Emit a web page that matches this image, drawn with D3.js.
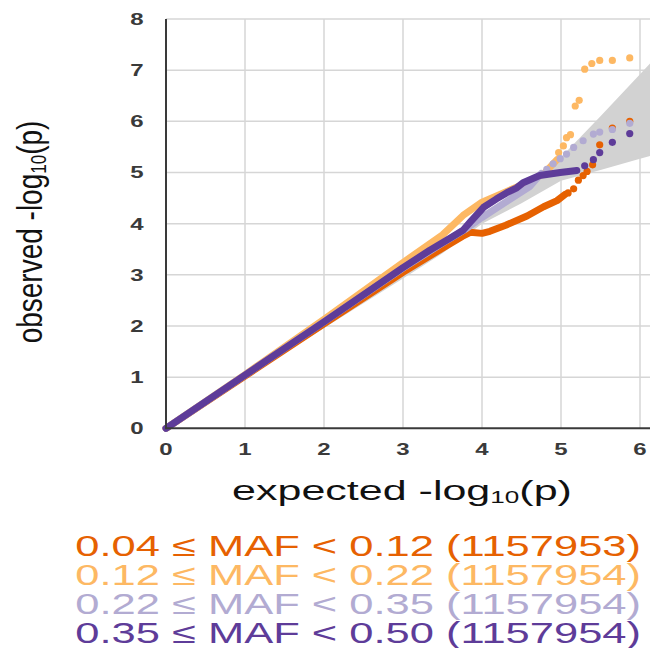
<!DOCTYPE html>
<html>
<head>
<meta charset="utf-8">
<script src="https://cdn.jsdelivr.net/npm/d3@7"></script>
<style>
  html, body { margin: 0; padding: 0; background: #fff; }
  svg { display: block; }
  text { font-family: "Liberation Sans", Arial, sans-serif; }
</style>
</head>
<body>
<svg id="chart" width="650" height="648"></svg>
<script>
// ---------- data ----------
const xTicks = [0, 1, 2, 3, 4, 5, 6];
const yTicks = [0, 1, 2, 3, 4, 5, 6, 7, 8];

const bandX     = [0, 1, 2, 3, 3.5, 4, 4.5, 5, 5.5, 6, 6.2];
const bandUpper = [0.02, 1.03, 2.05, 3.08, 3.6, 4.2, 4.7, 5.3, 6.1, 6.92, 7.25];
const bandLower = [0, 0.98, 1.96, 2.93, 3.42, 4.0, 4.4, 4.84, 5.05, 5.27, 5.35];

const seriesNames  = ["0.04 \u2264 MAF < 0.12 (1157953)", "0.12 \u2264 MAF < 0.22 (1157954)",
                      "0.22 \u2264 MAF < 0.35 (1157954)", "0.35 \u2264 MAF < 0.50 (1157954)"];
const seriesColors = ["#e66101", "#fdb863", "#b2abd2", "#5e3c99"];

// dense part (drawn as a thick line) : expected / observed
const maf1LineX = [0, 1, 2, 3, 3.5, 3.75, 3.85, 4.0, 4.1, 4.3, 4.57, 4.78, 4.95, 5.05];
const maf1LineY = [0, 1.02, 2.04, 3.05, 3.52, 3.75, 3.83, 3.81, 3.85, 3.97, 4.15, 4.33, 4.45, 4.57];
const maf2LineX = [0, 1, 2, 3, 3.5, 3.76, 4.0, 4.3, 4.6, 4.8, 4.95];
const maf2LineY = [0, 1.05, 2.13, 3.24, 3.78, 4.16, 4.42, 4.62, 4.82, 5.0, 5.25];
const maf3LineX = [0, 1, 2, 3, 3.5, 3.8, 4.0, 4.3, 4.6, 4.75];
const maf3LineY = [0, 1.04, 2.08, 3.13, 3.62, 3.9, 4.12, 4.42, 4.72, 4.98];
const maf4LineX = [0, 1, 2, 3, 3.34, 3.6, 3.76, 3.85, 4.02, 4.18, 4.31, 4.44, 4.52, 4.73, 4.99, 5.2];
const maf4LineY = [0, 1.04, 2.08, 3.14, 3.48, 3.72, 3.87, 4.03, 4.32, 4.48, 4.6, 4.7, 4.8, 4.94, 5.0, 5.04];

// sparse tail (individual points)
const maf1DotX = [5.09, 5.16, 5.22, 5.28, 5.33, 5.40, 5.49, 5.65, 5.87];
const maf1DotY = [4.60, 4.68, 4.85, 4.94, 5.02, 5.15, 5.54, 5.87, 6.00];
const maf2DotX = [4.97, 5.03, 5.07, 5.12, 5.18, 5.23, 5.30, 5.39, 5.49, 5.65, 5.87];
const maf2DotY = [5.39, 5.52, 5.68, 5.74, 6.30, 6.41, 7.02, 7.13, 7.19, 7.19, 7.24];
const maf3DotX = [4.82, 4.90, 4.99, 5.07, 5.16, 5.28, 5.41, 5.49, 5.65, 5.87];
const maf3DotY = [5.06, 5.17, 5.27, 5.36, 5.49, 5.62, 5.75, 5.79, 5.84, 5.96];
const maf4DotX = [5.30, 5.41, 5.49, 5.65, 5.87];
const maf4DotY = [5.13, 5.25, 5.39, 5.59, 5.76];

// ---------- build ----------
const lineXs = [maf1LineX, maf2LineX, maf3LineX, maf4LineX];
const lineYs = [maf1LineY, maf2LineY, maf3LineY, maf4LineY];
const dotXs  = [maf1DotX, maf2DotX, maf3DotX, maf4DotX];
const dotYs  = [maf1DotY, maf2DotY, maf3DotY, maf4DotY];

const svg = d3.select("#chart");
const x = d3.scaleLinear().domain([0, 6]).range([166, 640]);
const y = d3.scaleLinear().domain([0, 8]).range([428.3, 19]);

// grid
const grid = svg.append("g");
grid.selectAll("line.vg").data(xTicks.filter(d => d > 0)).enter().append("line")
  .attr("x1", d => x(d)).attr("x2", d => x(d))
  .attr("y1", y(0)).attr("y2", y(8))
  .attr("stroke", "#d6d6d6").attr("stroke-width", 1.5);
grid.selectAll("line.hg").data(yTicks.filter(d => d > 0)).enter().append("line")
  .attr("x1", x(0)).attr("x2", 650)
  .attr("y1", d => y(d)).attr("y2", d => y(d))
  .attr("stroke", "#d6d6d6").attr("stroke-width", 1.5);

// confidence band
const bandData = bandX.map((v, i) => ({x: v, lo: bandLower[i], hi: bandUpper[i]}));
svg.append("path").datum(bandData)
  .attr("d", d3.area().x(d => x(d.x)).y0(d => y(d.lo)).y1(d => y(d.hi)))
  .attr("fill", "#d2d2d2");

// series
const line = d3.line().x(d => x(d[0])).y(d => y(d[1]));
seriesColors.forEach((col, s) => {
  const g = svg.append("g");
  const pts = lineXs[s].map((v, i) => [v, lineYs[s][i]]);
  g.append("path").datum(pts)
    .attr("d", line)
    .attr("fill", "none").attr("stroke", col)
    .attr("stroke-width", 7).attr("stroke-linejoin", "round").attr("stroke-linecap", "round");
  const dots = dotXs[s].map((v, i) => [v, dotYs[s][i]]);
  g.selectAll("circle").data(dots).enter().append("circle")
    .attr("cx", d => x(d[0])).attr("cy", d => y(d[1])).attr("r", 3.6)
    .attr("fill", col);
});

// axes lines
svg.append("line").attr("x1", x(0)).attr("x2", x(0)).attr("y1", y(0)).attr("y2", y(8))
  .attr("stroke", "#3a3a3a").attr("stroke-width", 2);
svg.append("line").attr("x1", x(0) - 1).attr("x2", 650).attr("y1", y(0)).attr("y2", y(0))
  .attr("stroke", "#3a3a3a").attr("stroke-width", 2);

// tick labels
svg.selectAll("text.xt").data(xTicks).enter().append("text")
  .attr("transform", d => `translate(${x(d)},455) scale(1.5,1)`)
  .attr("text-anchor", "middle").attr("font-size", 16).attr("font-weight", "bold")
  .attr("fill", "#3a3a3a").text(d => d);
svg.selectAll("text.yt").data(yTicks).enter().append("text")
  .attr("transform", d => `translate(137,${y(d) + 6}) scale(1.5,1)`)
  .attr("text-anchor", "middle").attr("font-size", 16).attr("font-weight", "bold")
  .attr("fill", "#3a3a3a").text(d => d);

// axis titles
const xt = svg.append("text")
  .attr("text-anchor", "middle").attr("font-size", 28).attr("fill", "#111");
xt.append("tspan").text("expected -log");
xt.append("tspan").attr("font-size", 17).attr("dy", 3).text("10");
xt.append("tspan").attr("dy", -3).text("(p)");
const xtw = xt.node().getComputedTextLength();
xt.attr("transform", `translate(402,500) scale(${340 / xtw},1)`);

const yt = svg.append("text")
  .attr("transform", "translate(42,232) scale(1.25,1) rotate(-90)")
  .attr("text-anchor", "middle").attr("font-size", 28).attr("fill", "#111");
yt.append("tspan").text("observed -log");
yt.append("tspan").attr("font-size", 17).attr("dy", 3).text("10");
yt.append("tspan").attr("dy", -3).text("(p)");

// legend (right aligned, stretched to measured width)
const legBase = [556, 585, 614, 643];
seriesNames.forEach((name, i) => {
  const t = svg.append("text")
    .attr("text-anchor", "end").attr("font-size", 29)
    .attr("fill", seriesColors[i]).text(name);
  const w = t.node().getComputedTextLength();
  const sx = 566 / w;
  t.attr("transform", `translate(641,${legBase[i]}) scale(${sx},1)`);
});
</script>
</body>
</html>
